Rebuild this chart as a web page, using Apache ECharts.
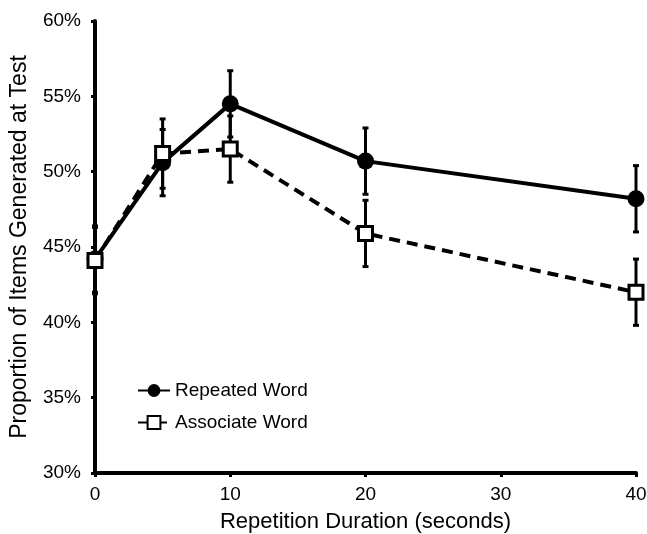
<!DOCTYPE html>
<html>
<head>
    <meta charset="utf-8">
    <title>Repetition Duration</title>
    <script src="https://cdn.jsdelivr.net/npm/echarts@6/dist/echarts.min.js"></script>
    <style>
        html, body { margin: 0; padding: 0; background: #fff; }
    </style>
</head>
<body>
    <div id="main" style="width: 647px;height:534px;"></div>
    <script type="text/javascript">
        // durations (seconds)
        var durations = [0, 5, 10, 20, 40];
        // proportions in %
        var repeated = [44.2, 50.6, 54.5, 50.7, 48.2];
        var associate = [44.1, 51.2, 51.5, 45.9, 42.0];
        // error bar half-widths
        var repeatedErr = [2.2, 2.2, 2.2, 2.2, 2.2];
        var associateErr = [2.2, 2.3, 2.2, 2.2, 2.2];

        var FONT = 'Liberation Sans, Arial, sans-serif';

        function pairs(ys) {
            return durations.map(function (x, i) { return [x, ys[i]]; });
        }
        function errData(ys, es) {
            return durations.map(function (x, i) { return [x, ys[i] - es[i], ys[i] + es[i]]; });
        }

        function errorBar(params, api) {
            var lo = api.coord([api.value(0), api.value(1)]);
            var hi = api.coord([api.value(0), api.value(2)]);
            var w = 3;
            var st = { stroke: '#000', lineWidth: 3 };
            return {
                type: 'group',
                children: [
                    { type: 'line', shape: { x1: lo[0], y1: lo[1], x2: hi[0], y2: hi[1] }, style: st },
                    { type: 'line', shape: { x1: lo[0] - w, y1: lo[1], x2: lo[0] + w, y2: lo[1] }, style: st },
                    { type: 'line', shape: { x1: hi[0] - w, y1: hi[1], x2: hi[0] + w, y2: hi[1] }, style: st }
                ]
            };
        }

        var myChart = echarts.init(document.getElementById('main'));

        var option = {
            animation: false,
            backgroundColor: '#fff',
            grid: { left: 95, right: 11, top: 21, bottom: 61, outerBoundsMode: 'none' },
            legend: {
                orient: 'vertical',
                left: 132,
                top: 376,
                itemGap: 13,
                itemWidth: 32,
                itemHeight: 16,
                textStyle: { fontFamily: FONT, fontSize: 19, color: '#000' },
                data: ['Repeated Word', 'Associate Word']
            },
            xAxis: {
                type: 'value',
                min: 0,
                max: 40,
                interval: 10,
                name: 'Repetition Duration (seconds)',
                nameLocation: 'middle',
                nameGap: 38,
                nameTextStyle: { fontFamily: FONT, fontSize: 22, color: '#000' },
                axisLine: { lineStyle: { color: '#000', width: 4 } },
                axisTick: { show: true, length: 4, lineStyle: { color: '#000', width: 3 } },
                axisLabel: { fontFamily: FONT, fontSize: 19, color: '#000', margin: 12 },
                splitLine: { show: false }
            },
            yAxis: {
                type: 'value',
                min: 30,
                max: 60,
                interval: 5,
                name: 'Proportion of Items Generated at Test',
                nameLocation: 'middle',
                nameGap: 64,
                nameTextStyle: { fontFamily: FONT, fontSize: 23, color: '#000' },
                axisLine: { show: true, lineStyle: { color: '#000', width: 4 } },
                axisTick: { show: true, length: 4, lineStyle: { color: '#000', width: 3 } },
                axisLabel: { fontFamily: FONT, fontSize: 19, color: '#000', margin: 14, formatter: '{value}%' },
                splitLine: { show: false }
            },
            series: [
                {
                    type: 'custom',
                    renderItem: errorBar,
                    data: errData(repeated, repeatedErr),
                    encode: { x: 0, y: [1, 2] },
                    z: 1,
                    silent: true
                },
                {
                    type: 'custom',
                    renderItem: errorBar,
                    data: errData(associate, associateErr),
                    encode: { x: 0, y: [1, 2] },
                    z: 1,
                    silent: true
                },
                {
                    name: 'Repeated Word',
                    type: 'line',
                    data: pairs(repeated),
                    symbol: 'circle',
                    symbolSize: 17,
                    z: 3,
                    lineStyle: { color: '#000', width: 4, type: 'solid' },
                    itemStyle: { color: '#000', borderColor: '#000', borderWidth: 0 }
                },
                {
                    name: 'Associate Word',
                    type: 'line',
                    data: pairs(associate),
                    symbol: 'rect',
                    symbolSize: 14,
                    z: 4,
                    lineStyle: { color: '#000', width: 4, type: [11, 7] },
                    itemStyle: { color: '#fff', borderColor: '#000', borderWidth: 3 }
                }
            ]
        };
        myChart.setOption(option);
    </script>
</body>
</html>
